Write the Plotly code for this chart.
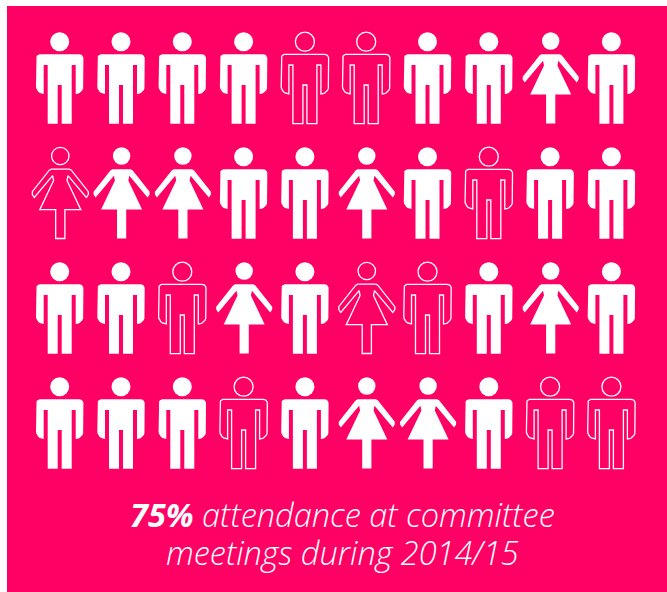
import math
import plotly.graph_objects as go

# Pictogram data: one row per line of figures; M = man, W = woman
ROW_KINDS = [
    list("MMMMMMMMWM"),
    list("WWWMMWMMMM"),
    list("MMMWMWMMWM"),
    list("MMMMMWWMMM"),
]
# 1 = attended (solid figure), 0 = absent (outlined figure)
ROW_ATTENDED = [
    [1, 1, 1, 1, 0, 0, 1, 1, 1, 1],
    [0, 1, 1, 1, 1, 1, 1, 0, 1, 1],
    [1, 1, 0, 1, 1, 0, 0, 1, 1, 1],
    [1, 1, 1, 0, 1, 1, 1, 1, 0, 0],
]
CAPTION_BOLD = "75%"
CAPTION_LINE1 = " attendance at committee"
CAPTION_LINE2 = "meetings during 2014/15"

# Layout and style
PINK = "#FF0064"
X0, DX = 59.7, 61.3
Y0, DY = 32.0, 115.0
WOMAN_DX = 0.6
OUTLINE_W = 1.3


def arc(cx, cy, rx, ry, a0, a1, n=6):
    return [(cx + rx * math.cos(math.radians(a0 + (a1 - a0) * i / n)),
             cy + ry * math.sin(math.radians(a0 + (a1 - a0) * i / n))) for i in range(n + 1)]


def mirror(right):
    return right + [(-x, y) for x, y in reversed(right)]


MAN = mirror(
    arc(19.7, 26.3, 4, 4, -90, 0)
    + arc(16.0, 54.5, 7.7, 7.5, 0, 90)
    + [(16, 33), (12, 33), (12, 91.7), (2, 91.7), (2, 53)]
)
WOMAN = mirror(
    [(9.0, 22.2), (11.0, 23.2), (28.0, 44.7), (28.0, 47.5), (26.0, 50.5),
     (7.7, 28.7), (6.7, 33.5), (20.5, 62.6), (4.6, 62.6), (4.6, 91.5)]
)
HEAD = {"M": (9.7, 19.0), "W": (9.0, 17.4)}

fig = go.Figure()

for kind, shape in (("M", MAN), ("W", WOMAN)):
    for attended in (1, 0):
        xs, ys, hx, hy = [], [], [], []
        for r, (kinds, att) in enumerate(zip(ROW_KINDS, ROW_ATTENDED)):
            for c, (k, a) in enumerate(zip(kinds, att)):
                if k != kind or a != attended:
                    continue
                cx = X0 + c * DX + (WOMAN_DX if k == "W" else 0)
                top = Y0 + r * DY
                xs += [cx + p[0] for p in shape] + [cx + shape[0][0], None]
                ys += [top + p[1] for p in shape] + [top + shape[0][1], None]
                hx.append(cx)
                hy.append(top + HEAD[k][0])
        fig.add_trace(go.Scatter(
            x=xs, y=ys, mode="lines", fill="toself",
            fillcolor="white" if attended else PINK,
            line=dict(color="white", width=0 if attended else OUTLINE_W),
            hoverinfo="skip", showlegend=False,
        ))
        fig.add_trace(go.Scatter(
            x=hx, y=hy, mode="markers",
            marker=dict(
                symbol="circle", size=HEAD[kind][1],
                color="white" if attended else PINK,
                line=dict(color="white", width=0 if attended else OUTLINE_W),
            ),
            hoverinfo="skip", showlegend=False,
        ))

CAP_FONT = dict(family="Open Sans", size=32.5, color="white", style="italic", weight=300)
fig.add_annotation(
    x=342, y=514, xref="x", yref="y", showarrow=False,
    text=f"<b>{CAPTION_BOLD}</b>{CAPTION_LINE1}", font=CAP_FONT,
)
fig.add_annotation(
    x=342, y=552, xref="x", yref="y", showarrow=False,
    text=CAPTION_LINE2, font=CAP_FONT,
)

fig.update_layout(
    width=667, height=592,
    margin=dict(l=7, r=0, t=6, b=0, pad=0),
    paper_bgcolor="white", plot_bgcolor=PINK,
    xaxis=dict(range=[7, 667], visible=False, fixedrange=True),
    yaxis=dict(range=[592, 6], visible=False, fixedrange=True),
    showlegend=False,
)
fig.write_html(
    "out.html",
    config={"displayModeBar": False},
    post_script="document.body.style.margin='0';document.documentElement.style.overflow='hidden';",
)
